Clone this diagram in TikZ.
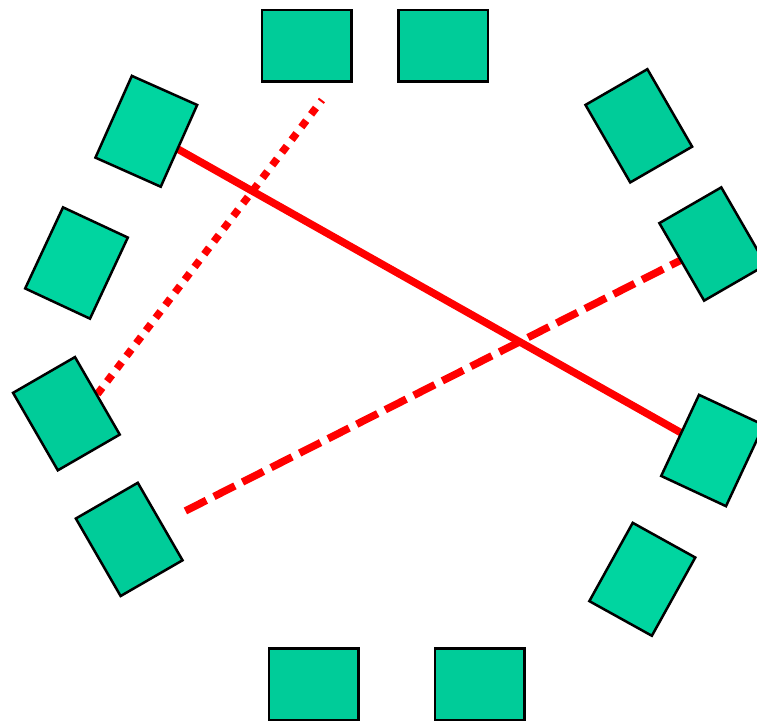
\documentclass[tikz,border=0pt]{standalone}
\usepackage{tikz}
\usetikzlibrary{calc}
\definecolor{SeatGreen}{HTML}{00CC99}
\definecolor{SeatLight}{HTML}{00D5A0}
\definecolor{LinkRed}{HTML}{FF0000}
\pgfdeclarelayer{bg}
\pgfsetlayers{bg,main}

\begin{document}
\begin{tikzpicture}[
  x=1pt,y=-1pt,
  seat/.style={draw=black,line width=2.5pt,fill=SeatGreen,minimum width=89.5pt,minimum height=71.5pt,inner sep=0pt},
  seatlight/.style={seat,fill=SeatLight},
  link/.style={draw=LinkRed,line width=7.5pt},
]
\clip (0,0) rectangle (757,723);
% top and bottom rows
\node[seat] (t1) at (306.5,45.5) {};
\node[seat] (t2) at (443,45.5) {};
\node[seat] (b1) at (313.5,684) {};
\node[seat] (b2) at (479.5,684) {};
% left side
\node[seatlight,rotate=66] (l1) at (146.3,131.3) {};
\node[seatlight,rotate=65] (l2) at (76.5,263) {};
\node[seat,rotate=-60] (l3) at (66.4,413.7) {};
\node[seat,rotate=-60] (l4) at (129.2,539.4) {};
% right side
\node[seat,rotate=-60] (r1) at (638.8,125.8) {};
\node[seat,rotate=-60] (r2) at (712.7,244) {};
\node[seatlight,rotate=65] (r3) at (712.5,450.5) {};
\node[seatlight,rotate=61] (r4) at (642.3,579.3) {};
% links under the seats
\coordinate (dtop) at (322,100);
\coordinate (dstart) at ($(l4.center)!63pt!(r2.center)$);
\begin{pgfonlayer}{bg}
\draw[link] (l1.center) -- (r3.center);
\draw[link,dash pattern=on 23.5pt off 8.5pt] (dstart) -- (r2.center);
\draw[link,dash pattern=on 8pt off 8pt,dash phase=6pt] (dtop) -- ($(l3.center)+(16,0)$);
\end{pgfonlayer}
\end{tikzpicture}
\end{document}
